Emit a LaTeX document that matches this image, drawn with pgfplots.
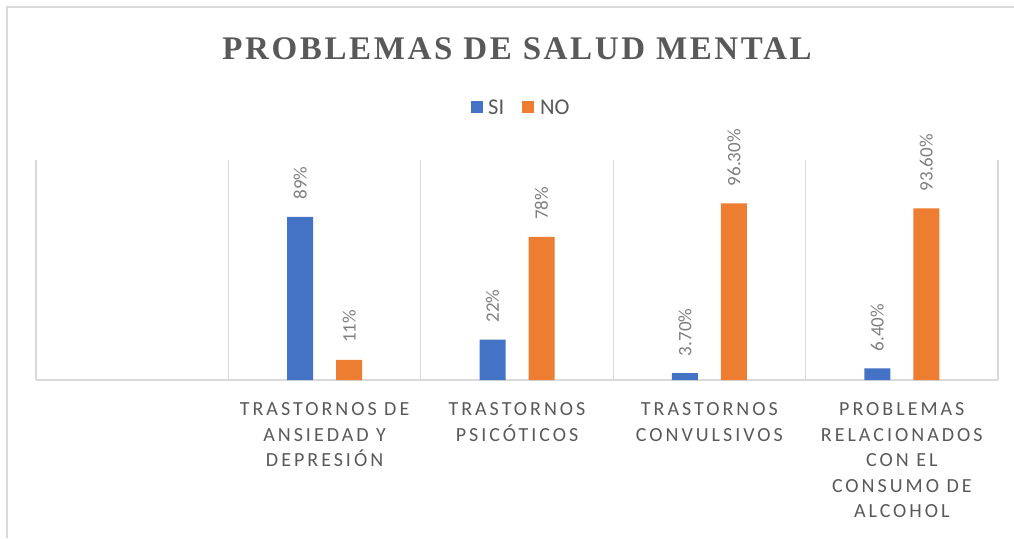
\documentclass[border=0pt]{standalone}
\usepackage{fontspec}
\usepackage{pgfplots}
\pgfplotsset{compat=1.18}
\setmainfont{Carlito}
\newfontfamily\titlefont[LetterSpace=8]{Liberation Serif}
\newfontfamily\tickfontfam[LetterSpace=15]{Carlito}
\newfontfamily\plainfont{Carlito}
\newcommand{\tickfont}{\tickfontfam\fontsize{20}{25.5}\selectfont}
\newcommand{\datafont}{\plainfont\fontsize{19}{22}\selectfont}
\newcommand{\legfont}{\plainfont\fontsize{22.5}{24}\selectfont}
\definecolor{siblue}{HTML}{4472C4}
\definecolor{noorange}{HTML}{ED7D31}
\definecolor{gridgray}{HTML}{D9D9D9}
\definecolor{txtgray}{HTML}{595959}
\definecolor{labgray}{HTML}{7F7F7F}

\begin{document}
\begin{tikzpicture}
\useasboundingbox (0,0) rectangle (1014pt,538pt);
% outer frame (only top and left edges visible)
\draw[gridgray, line width=1.3pt] (7pt,0pt) -- (7pt,531pt) -- (1014pt,531pt);
\node[font=\titlefont\bfseries\fontsize{33}{38}\selectfont, text=txtgray] at (517pt,489pt) {PROBLEMAS DE SALUD MENTAL};

% legend
\fill[siblue] (471pt,425pt) rectangle (483pt,437pt);
\node[anchor=west, inner sep=0pt, font=\legfont, text=txtgray] at (488pt,431pt) {SI};
\fill[noorange] (522pt,425pt) rectangle (534pt,437pt);
\node[anchor=west, inner sep=0pt, font=\legfont, text=txtgray] at (540pt,431pt) {NO};

\begin{axis}[
    at={(36pt,158pt)}, anchor=south west,
    scale only axis, width=962pt, height=220pt,
    ybar=23pt, bar width=26pt,
    xmin=-0.5, xmax=4.5, ymin=0, ymax=1.2,
    hide y axis,
    axis x line*=bottom,
    x axis line style={draw=gridgray, line width=1.3pt},
    xtick={0,...,4},
    xticklabels={{}, {TRASTORNOS DE\\ANSIEDAD Y\\DEPRESIÓN}, {TRASTORNOS\\PSICÓTICOS},
                 {TRASTORNOS\\CONVULSIVOS}, {PROBLEMAS\\RELACIONADOS\\CON EL\\CONSUMO DE\\ALCOHOL}},
    xticklabel style={align=center, font=\tickfont, text=txtgray, anchor=north, yshift=-19pt},
    major tick length=0pt, minor tick length=0pt,
    minor xtick={-0.5,0.5,...,4.5},
    xminorgrids, minor x grid style={draw=gridgray, line width=1.3pt},
    point meta=explicit symbolic,
    nodes near coords=\pgfplotspointmeta,
    every node near coord/.append style={rotate=90, anchor=west, inner xsep=17pt,
                                         font=\datafont, text=labgray},
]
% SI
\addplot[draw=none, fill=siblue] coordinates {
    (1,0.89) [89\%]
    (2,0.22) [22\%]
    (3,0.037) [3.70\%]
    (4,0.064) [6.40\%]
};
% NO
\addplot[draw=none, fill=noorange] coordinates {
    (1,0.11) [11\%]
    (2,0.78) [78\%]
    (3,0.963) [96.30\%]
    (4,0.936) [93.60\%]
};
\end{axis}
\end{tikzpicture}
\end{document}
